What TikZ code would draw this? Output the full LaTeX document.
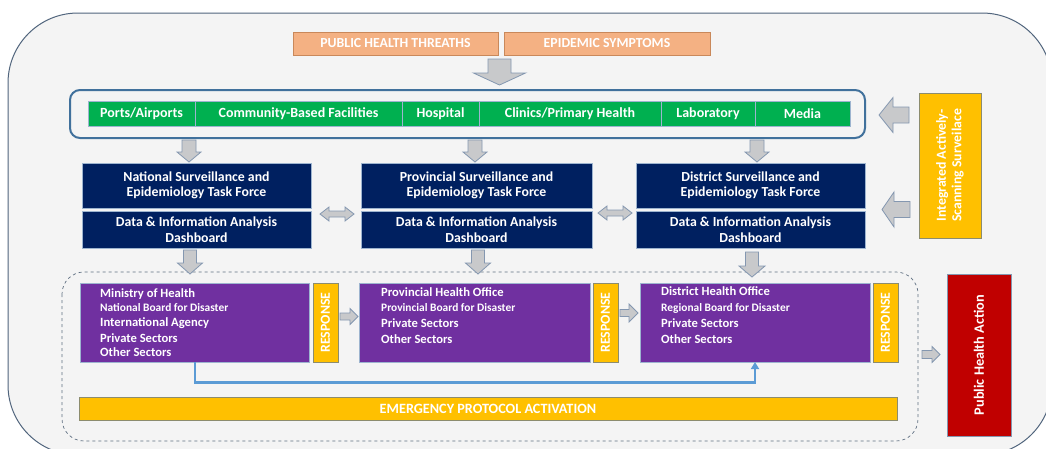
\documentclass[tikz,border=0pt]{standalone}
\usepackage{fontspec}
\setmainfont{Carlito}
\usetikzlibrary{arrows.meta}
\definecolor{framecol}{HTML}{51657D}
\definecolor{framefill}{HTML}{F4F4F4}
\definecolor{orfill}{HTML}{F4B183}
\definecolor{ordraw}{HTML}{C9885A}
\definecolor{grn}{HTML}{00B050}
\definecolor{navy}{HTML}{002060}
\definecolor{purp}{HTML}{7030A0}
\definecolor{yel}{HTML}{FFC000}
\definecolor{redc}{HTML}{C00000}
\definecolor{lightb}{HTML}{9DB4CF}
\definecolor{topb}{HTML}{41719C}
\definecolor{arrfill}{HTML}{C8C9CB}
\definecolor{arrdraw}{HTML}{8497B0}
\definecolor{conn}{HTML}{5B9BD5}
\definecolor{dashc}{HTML}{5F6F82}
\definecolor{yeldraw}{HTML}{8C8C6E}
\newcommand{\vblock}[6]{% cx, ytop, ybase, ytip, shaft half, head half
  \draw[garrow] (#1-#5,#2) -- (#1+#5,#2) -- (#1+#5,#3) -- (#1+#6,#3) -- (#1,#4) -- (#1-#6,#3) -- (#1-#5,#3) -- cycle;}
\newcommand{\hblock}[6]{% cy, xtail, xbase, xtip, shaft half, head half
  \draw[garrow] (#2,#1-#5) -- (#3,#1-#5) -- (#3,#1-#6) -- (#4,#1) -- (#3,#1+#6) -- (#3,#1+#5) -- (#2,#1+#5) -- cycle;}
\newcommand{\dblock}[6]{% cy, x1, x2, head length, shaft half, head half
  \draw[garrow] (#2,#1) -- (#2+#4,#1-#6) -- (#2+#4,#1-#5) -- (#3-#4,#1-#5) -- (#3-#4,#1-#6) -- (#3,#1) -- (#3-#4,#1+#6) -- (#3-#4,#1+#5) -- (#2+#4,#1+#5) -- (#2+#4,#1+#6) -- cycle;}
\newcommand{\rbox}[7]{% style, name, x1, y1, x2, y2, text
  \node[#1, minimum width={(#5-#3)*1pt}, minimum height={(#6-#4)*1pt}] (#2) at ({(#3+#5)/2},{(#4+#6)/2}) {#7};}
\tikzset{
  garrow/.style={fill=arrfill, draw=arrdraw, line width=0.8pt, line join=miter},
  boxbase/.style={rectangle, inner sep=0pt, outer sep=0pt, text=white, font=\bfseries\fontsize{13.8}{15.5}\selectfont, align=center, line width=0.8pt},
  orbox/.style={boxbase, fill=orfill, draw=ordraw, font=\bfseries\fontsize{13.8}{15}\selectfont},
  cell/.style={boxbase, fill=grn, draw=lightb, font=\bfseries\fontsize{14}{15}\selectfont},
  navbox/.style={boxbase, fill=navy, draw=lightb},
  purbox/.style={boxbase, fill=purp, draw=lightb},
  respbox/.style={boxbase, fill=yel, draw=yeldraw},
  yelbox/.style={boxbase, fill=yel, draw=yeldraw, font=\bfseries\fontsize{14.2}{15}\selectfont},
  redbox/.style={boxbase, fill=redc, draw=arrdraw},
  rottxt/.style={inner sep=0pt, text=white, rotate=90, align=center, font=\bfseries\fontsize{13.8}{15.5}\selectfont},
  ptxt/.style={inner sep=0pt, text=white, anchor=base west, font=\bfseries\fontsize{12.6}{14}\selectfont},
  ptxts/.style={ptxt, font=\bfseries\fontsize{11.4}{13}\selectfont},
}
\begin{document}
\begin{tikzpicture}[x=1pt,y=-1pt]
\useasboundingbox (0,0) rectangle (1046,448);
\clip (0,0) rectangle (1046,448);
\fill[white] (0,0) rectangle (1046,448);
\draw[draw=framecol, fill=framefill, line width=1pt, rounded corners=70pt] (8,13) rectangle (1052,455);

% threats
\rbox{orbox}{threat}{293}{32}{498}{55}{PUBLIC HEALTH THREATHS}
\rbox{orbox}{symp}{504}{32}{710}{55}{EPIDEMIC SYMPTOMS}
\vblock{499.5}{59}{73}{85}{11.5}{26}

% sources
\draw[draw=topb, line width=2pt, rounded corners=10pt] (70,90) rectangle (865,138);
\rbox{cell}{ports}{88}{101}{195}{126}{Ports/Airports}
\rbox{cell}{comm}{195}{101}{402}{126}{Community-Based Facilities}
\rbox{cell}{hosp}{402}{101}{479}{126}{Hospital}
\rbox{cell}{clin}{479}{101}{661}{126}{Clinics/Primary Health}
\rbox{cell}{lab}{661}{101}{755}{126}{Laboratory}
\rbox{cell}{media}{755}{101}{850}{126}{Media}

\vblock{189}{140}{152}{162}{7}{12}
\vblock{475}{140}{152}{162}{7}{12}
\vblock{757}{140}{152}{162}{7}{12}

% task forces
\rbox{navbox}{natT}{82}{163}{311}{208}{National Surveillance and\\Epidemiology Task Force}
\rbox{navbox}{natD}{82}{211}{311}{248}{Data \& Information Analysis\\Dashboard}
\rbox{navbox}{proT}{361}{163}{592}{208}{Provincial Surveillance and\\Epidemiology Task Force}
\rbox{navbox}{proD}{361}{211}{592}{248}{Data \& Information Analysis\\Dashboard}
\rbox{navbox}{disT}{636}{163}{865}{208}{District Surveillance and\\Epidemiology Task Force}
\rbox{navbox}{disD}{636}{211}{865}{248}{Data \& Information Analysis\\Dashboard}

\dblock{214}{320}{354}{9}{3}{7}
\dblock{213}{598}{632}{9}{3}{7}

% integrated
\rbox{respbox}{integ}{919}{93}{981}{238}{}
\node[rottxt] (integtxt) at (integ.center) {Integrated Actively-\\Scanning Surveilace};
\hblock{115}{909}{893}{879}{8}{17.5}
\hblock{209.5}{910}{894}{882}{8}{17.5}

% response area
\draw[draw=dashc, dashed, line width=0.7pt, rounded corners=22pt] (62,272) rectangle (918,441);
\vblock{190}{250}{263}{274}{6.5}{12.5}
\vblock{478}{250}{263}{274}{6.5}{12.5}
\vblock{752}{252}{266}{277}{6.5}{13}

\rbox{purbox}{min}{80}{283}{309}{362}{}
\rbox{respbox}{resp1}{313}{283}{338}{362}{}
\node[rottxt] (r1txt) at (resp1.center) {RESPONSE};
\rbox{purbox}{prov}{359}{283}{590}{362}{}
\rbox{respbox}{resp2}{593}{283}{618}{362}{}
\node[rottxt] (r2txt) at (resp2.center) {RESPONSE};
\rbox{purbox}{dist}{640}{283}{870}{362}{}
\rbox{respbox}{resp3}{873}{283}{898}{362}{}
\node[rottxt] (r3txt) at (resp3.center) {RESPONSE};

\node[ptxt] (m1) at (100,297) {Ministry of Health};
\node[ptxts] (m2) at (100,311) {National Board for Disaster};
\node[ptxt] (m3) at (100,326.5) {International Agency};
\node[ptxt] (m4) at (100,342) {Private Sectors};
\node[ptxt] (m5) at (100,356.5) {Other Sectors};

\node[ptxt] (p1) at (381,296) {Provincial Health Office};
\node[ptxts] (p2) at (381,311) {Provincial Board for Disaster};
\node[ptxt] (p3) at (381,327.5) {Private Sectors};
\node[ptxt] (p4) at (381,343) {Other Sectors};

\node[ptxt] (d1) at (661,295) {District Health Office};
\node[ptxts] (d2) at (661,311) {Regional Board for Disaster};
\node[ptxt] (d3) at (661,327.5) {Private Sectors};
\node[ptxt] (d4) at (661,343) {Other Sectors};

\hblock{316.5}{340}{350}{358}{3.5}{8}
\hblock{313}{620}{629}{638}{3.5}{9}

\draw[conn, line width=2.2pt, -{Triangle[length=7pt,width=8pt]}] ([xshift=115pt]min.south west) -- ++(0,20.5) -| ([xshift=115pt]dist.south west);

\rbox{yelbox}{emerg}{79}{397}{897}{420}{EMERGENCY PROTOCOL ACTIVATION}

\hblock{354.5}{922}{932}{940}{4}{8}
\rbox{redbox}{pha}{947}{274}{1011}{436}{}
\node[rottxt, font=\bfseries\fontsize{14.3}{15.5}\selectfont] (phatxt) at (pha.center) {Public Health Action};
\end{tikzpicture}
\end{document}
